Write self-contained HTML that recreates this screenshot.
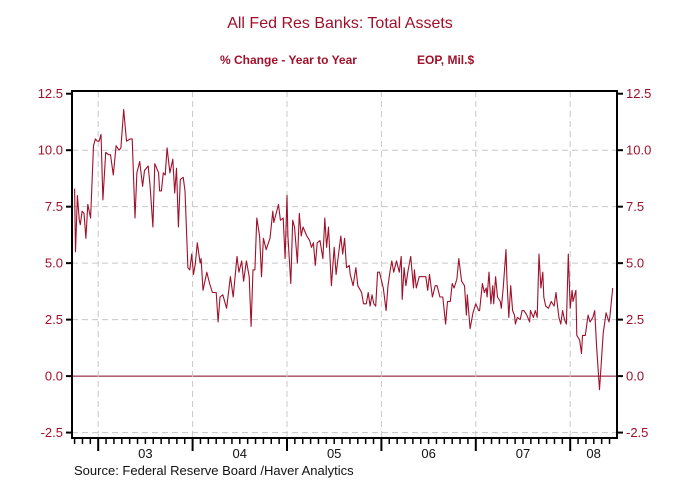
<!DOCTYPE html>
<html><head><meta charset="utf-8">
<style>
html,body{margin:0;padding:0;background:#fff;}
svg{display:block;font-family:"Liberation Sans",Arial,sans-serif;}
</style></head>
<body>
<svg id="chart" width="681" height="493" viewBox="0 0 681 493" xmlns="http://www.w3.org/2000/svg">
<text x="340" y="28" text-anchor="middle" font-size="16" fill="#a0102a">All Fed Res Banks: Total Assets</text>
<text x="220" y="64" font-size="12" font-weight="bold" fill="#a0102a">% Change - Year to Year</text>
<text x="417" y="64" font-size="12" font-weight="bold" fill="#a0102a">EOP, Mil.$</text>
<g id="grid"></g>
<g id="axes"></g>
<path id="series" fill="none" stroke="#a0102a" stroke-width="1.1" stroke-linejoin="round"/>
<text x="74" y="475" font-size="13" fill="#111">Source:  Federal Reserve Board /Haver Analytics</text>
</svg>
<script>
const dates=[2002.75,2002.76,2002.78,2002.80,2002.81,2002.83,2002.85,2002.87,2002.89,2002.92,2002.95,2002.97,2002.99,2003.01,2003.03,2003.05,2003.08,2003.11,2003.13,2003.16,2003.19,2003.22,2003.24,2003.27,2003.30,2003.34,2003.36,2003.39,2003.41,2003.44,2003.47,2003.49,2003.53,2003.55,2003.58,2003.60,2003.64,2003.65,2003.67,2003.69,2003.71,2003.73,2003.76,2003.79,2003.81,2003.83,2003.85,2003.87,2003.90,2003.92,2003.95,2003.97,2003.99,2004.01,2004.03,2004.05,2004.08,2004.09,2004.11,2004.15,2004.18,2004.21,2004.25,2004.27,2004.29,2004.32,2004.36,2004.40,2004.43,2004.47,2004.49,2004.52,2004.54,2004.57,2004.60,2004.62,2004.64,2004.66,2004.68,2004.71,2004.73,2004.75,2004.78,2004.82,2004.85,2004.86,2004.91,2004.93,2004.96,2004.98,2005.00,2005.01,2005.04,2005.06,2005.08,2005.11,2005.13,2005.15,2005.17,2005.21,2005.24,2005.26,2005.28,2005.30,2005.32,2005.35,2005.38,2005.40,2005.42,2005.44,2005.47,2005.50,2005.52,2005.54,2005.57,2005.59,2005.61,2005.63,2005.66,2005.67,2005.70,2005.73,2005.75,2005.79,2005.81,2005.84,2005.86,2005.88,2005.90,2005.92,2005.94,2005.96,2005.98,2006.02,2006.05,2006.07,2006.09,2006.11,2006.13,2006.16,2006.19,2006.21,2006.22,2006.24,2006.26,2006.28,2006.31,2006.34,2006.35,2006.37,2006.40,2006.44,2006.47,2006.49,2006.51,2006.54,2006.57,2006.59,2006.62,2006.65,2006.68,2006.70,2006.73,2006.75,2006.77,2006.80,2006.82,2006.85,2006.88,2006.90,2006.91,2006.94,2006.97,2007.00,2007.03,2007.04,2007.07,2007.09,2007.11,2007.12,2007.14,2007.16,2007.18,2007.19,2007.21,2007.23,2007.26,2007.27,2007.29,2007.32,2007.33,2007.35,2007.37,2007.39,2007.41,2007.42,2007.44,2007.47,2007.49,2007.51,2007.54,2007.57,2007.58,2007.61,2007.63,2007.65,2007.67,2007.69,2007.71,2007.72,2007.74,2007.77,2007.80,2007.83,2007.85,2007.86,2007.88,2007.90,2007.92,2007.94,2007.96,2007.98,2008.00,2008.02,2008.03,2008.06,2008.07,2008.10,2008.12,2008.13,2008.16,2008.19,2008.21,2008.24,2008.26,2008.28,2008.31,2008.33,2008.35,2008.38,2008.41,2008.42,2008.45];
const values=[8.3,5.5,8.0,6.9,6.7,7.3,7.2,6.1,7.6,7.0,10.2,10.5,10.4,10.4,10.7,7.8,9.9,9.8,9.8,8.9,10.2,10.0,10.1,11.8,10.4,10.5,10.5,7.0,9.0,9.5,8.4,9.1,9.3,8.4,6.6,9.4,9.0,8.2,8.2,9.0,8.9,10.1,9.0,9.6,8.1,9.2,6.6,8.7,8.8,8.2,4.8,4.7,5.4,4.5,5.0,5.9,5.0,5.2,3.8,4.6,4.1,3.7,3.7,2.4,3.5,3.6,3.0,4.4,3.5,5.3,4.6,5.1,4.2,5.1,4.4,2.2,4.7,4.7,7.0,6.2,4.4,6.1,5.6,6.1,7.3,6.8,7.6,6.9,7.0,5.2,8.0,6.2,4.1,6.9,6.6,5.0,7.2,6.2,6.6,6.2,6.0,5.7,5.9,4.9,5.9,6.0,5.2,7.0,5.7,6.6,4.0,5.7,4.5,5.2,6.2,5.4,6.1,4.8,4.9,4.5,4.0,4.8,4.0,3.7,3.2,3.2,3.7,3.1,3.6,3.2,3.1,4.6,4.6,3.9,2.9,4.0,4.6,5.1,4.6,5.1,4.6,5.3,3.4,4.8,4.0,4.6,5.3,3.9,4.7,3.9,4.4,4.4,4.4,3.8,4.5,3.5,4.0,4.0,3.5,3.5,2.3,3.3,3.3,4.1,3.9,4.3,5.2,4.2,4.0,2.7,3.6,2.1,2.8,3.2,2.9,2.9,4.1,3.7,3.9,3.5,4.6,3.2,4.0,3.2,4.4,3.5,3.3,3.0,3.9,5.6,4.3,2.6,4.0,2.9,2.7,2.3,2.6,2.5,2.9,2.9,2.7,2.4,2.9,2.6,2.9,2.6,5.4,3.9,4.6,3.5,3.1,3.0,3.3,3.1,3.7,3.3,2.6,2.3,2.9,2.5,2.3,5.4,3.0,3.8,3.3,3.8,1.8,1.6,1.0,1.8,1.8,2.7,2.4,2.6,2.9,1.3,-0.6,0.6,1.9,2.8,2.4,2.6,3.9];
const yTicks=[-2.5,0,2.5,5,7.5,10,12.5];
const yTickLabels=["-2.5","0.0","2.5","5.0","7.5","10.0","12.5"];
const yearLabels=["03","04","05","06","07","08"];
const yearStarts=[2003,2004,2005,2006,2007,2008];

const L=72,R=617,T=91,B=438;
const X0=2002.7225,X1=2008.4958;
const Y0=-2.74,Y1=12.62;
const sx=t=>L+(t-X0)/(X1-X0)*(R-L);
const sy=v=>B-(v-Y0)/(Y1-Y0)*(B-T);
const NS="http://www.w3.org/2000/svg";
function mk(tag,attrs,parent){const e=document.createElementNS(NS,tag);for(const k in attrs)e.setAttribute(k,attrs[k]);parent.appendChild(e);return e;}
const grid=document.getElementById('grid'),axes=document.getElementById('axes');

yTicks.forEach((v,i)=>{
  const y=sy(v);
  if(v!==0&&v!==12.5){
    const g=mk('line',{x1:L,x2:R,y1:y,y2:y,stroke:'#c8c8c8','stroke-dasharray':'6,4','stroke-width':1},grid);
    
    
  }
  const tl=mk('line',{x1:L-6,x2:L,y1:y,y2:y,stroke:'#000','stroke-width':2},axes);
  
  
  const tr=mk('line',{x1:R,x2:R+6,y1:y,y2:y,stroke:'#000','stroke-width':2},axes);
  
  
  const a=mk('text',{x:L-9,y:y+4.5,'text-anchor':'end','font-size':13,fill:'#a0102a'},axes);
  a.textContent=yTickLabels[i];
  
  
  const b=mk('text',{x:R+9,y:y+4.5,'text-anchor':'start','font-size':13,fill:'#a0102a'},axes);
  b.textContent=yTickLabels[i];
  
  
});
const z=mk('line',{x1:L,x2:R,y1:sy(0),y2:sy(0),stroke:'#800020','stroke-width':1},grid);



yearStarts.forEach((yr,i)=>{
  const x=sx(yr);
  const g=mk('line',{x1:x,x2:x,y1:T,y2:B,stroke:'#c8c8c8','stroke-dasharray':'6,4','stroke-width':1},grid);
  
  
  const t=mk('line',{x1:x,x2:x,y1:B,y2:B+13,stroke:'#000','stroke-width':2},axes);
  
  
  const end=Math.min(yr+1,X1);
  const lb=mk('text',{x:(x+sx(end))/2,y:458,'text-anchor':'middle','font-size':13,fill:'#111'},axes);
  lb.textContent=yearLabels[i];
  
  
});
for(let m=Math.ceil(X0*12);m<=Math.floor(X1*12);m++){
  if(m%12===0)continue;
  const x=sx(m/12);
  const t=mk('line',{x1:x,x2:x,y1:B,y2:B+6,stroke:'#000','stroke-width':1.5},axes);
  
  
}
const frame=mk('rect',{x:L,y:T,width:R-L,height:B-T,fill:'none',stroke:'#000','stroke-width':2},axes);



let d='';
dates.forEach((t,i)=>{d+=(i?'L':'M')+sx(t).toFixed(1)+','+sy(values[i]).toFixed(1);});
document.getElementById('series').setAttribute('d',d);
</script>
</body></html>
